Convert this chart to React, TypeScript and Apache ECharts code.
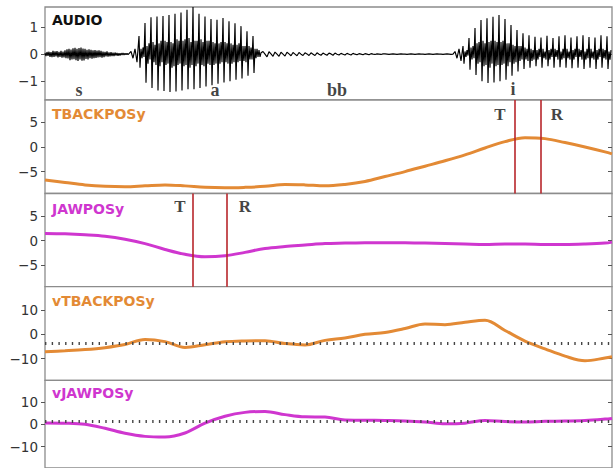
import { useEffect, useRef } from "react";
import * as echarts from "echarts";

// time axis (ms) of the articulatory curves
const CURVE_TIMES = [0, 20, 40, 60, 80, 100, 120, 140, 160, 180, 200, 220, 240, 260, 280, 300, 320, 340, 360, 380, 400, 420, 440, 460, 480, 500, 520, 540, 560, 567];

const TBACKPOS_Y = [-6.7, -7.2, -7.7, -8.0, -8.1, -7.9, -7.7, -7.9, -8.2, -8.3, -8.2, -8.0, -7.6, -7.7, -7.9, -7.6, -7.0, -6.0, -5.0, -3.9, -2.8, -1.6, -0.2, 1.1, 1.9, 1.7, 0.9, 0.0, -1.0, -1.4];
const JAWPOS_Y = [1.5, 1.4, 1.2, 0.9, 0.3, -0.6, -1.8, -2.8, -3.3, -3.1, -2.4, -1.6, -1.2, -0.9, -0.6, -0.5, -0.4, -0.4, -0.4, -0.5, -0.6, -0.7, -0.8, -0.7, -0.7, -0.8, -0.8, -0.7, -0.5, -0.3];
const V_TBACKPOS_Y = [-7.2, -6.8, -6.3, -5.5, -4.2, -2.1, -3.0, -5.4, -4.3, -3.1, -2.7, -2.6, -3.8, -4.4, -2.5, -1.5, 0.0, 0.8, 2.4, 4.3, 4.0, 5.0, 5.8, 1.6, -2.8, -6.0, -9.0, -10.9, -9.8, -9.3];
const V_JAWPOS_Y = [0.6, 0.5, 0.0, -1.8, -4.0, -5.4, -5.7, -3.9, 0.5, 3.6, 5.3, 5.7, 4.3, 3.3, 3.2, 1.9, 1.8, 1.7, 1.5, 1.0, 0.2, 0.5, 1.7, 1.2, 1.0, 1.3, 1.4, 1.7, 2.3, 2.6];

// audio waveform pieces (amplitude samples)
const AUDIO_S = [
  0.05, -0.07, 0.08, -0.06, 0.09, -0.1, 0.08, -0.11, 0.12, -0.1,
  0.1, -0.08, 0.11, -0.12, 0.09, -0.1, 0.12, -0.13, 0.1, -0.12,
  0.14, -0.15, 0.18, -0.16, 0.2, -0.22, 0.17, -0.2, 0.22, -0.19,
  0.24, -0.22, 0.2, -0.25, 0.23, -0.2, 0.25, -0.24, 0.21, -0.23,
  0.2, -0.18, 0.16, -0.2, 0.18, -0.15, 0.16, -0.17, 0.14, -0.15,
  0.15, -0.14, 0.13, -0.12, 0.14, -0.11, 0.12, -0.13, 0.1, -0.11,
  0.09, -0.08, 0.1, -0.09, 0.07, -0.08, 0.08, -0.07, 0.06, -0.07,
  0.06, -0.05, 0.05, -0.06, 0.04, -0.05, 0.04, -0.03, 0.04, -0.03,
  0.03, -0.02, 0.03, -0.02, 0.02,
];
const AUDIO_ONSET_A = [0.1, -0.15, 0.2, -0.3];
const AUDIO_A = [
  0.67, -0.5, 0.2, -0.15, 0.25, -0.1,
  1.16, -1.06, 0.3, -0.35, 0.4, -0.2,
  1.37, -1.25, 0.45, -0.3, 0.35, -0.4,
  1.4, -1.35, 0.4, -0.45, 0.5, -0.3,
  1.42, -1.37, 0.5, -0.4, 0.45, -0.35,
  1.45, -1.4, 0.45, -0.5, 0.4, -0.45,
  1.5, -1.38, 0.55, -0.4, 0.5, -0.35,
  1.55, -1.35, 0.5, -0.45, 0.55, -0.4,
  1.65, -1.3, 0.6, -0.5, 0.45, -0.4,
  1.75, -1.3, 0.5, -0.45, 0.5, -0.35,
  1.5, -1.25, 0.55, -0.4, 0.45, -0.45,
  1.4, -1.2, 0.5, -0.35, 0.5, -0.4,
  1.3, -1.15, 0.45, -0.4, 0.4, -0.35,
  1.28, -1.1, 0.4, -0.35, 0.45, -0.3,
  1.34, -1.05, 0.45, -0.3, 0.4, -0.35,
  1.22, -1.0, 0.4, -0.35, 0.35, -0.3,
  1.15, -0.95, 0.35, -0.3, 0.4, -0.25,
  1.04, -0.9, 0.3, -0.25, 0.3, -0.3,
  0.85, -0.8, 0.3, -0.2, 0.25, -0.2,
  0.67, -0.7, 0.2, -0.15, 0.2, -0.1,
  0.15, -0.1, 0.05,
];
const AUDIO_BB = [
  0.1, 0.0, -0.1,
  0.09, 0.01, -0.08,
  0.08, 0.0, -0.08,
  0.07, 0.0, -0.07,
  0.07, 0.01, -0.06,
  0.06, 0.0, -0.06,
  0.06, 0.0, -0.05,
  0.05, 0.01, -0.05,
  0.05, 0.0, -0.05,
  0.05, 0.0, -0.04,
  0.04, 0.0, -0.04,
  0.04, 0.01, -0.04,
  0.04, 0.0, -0.03,
  0.03, 0.0, -0.03,
  0.03, 0.0, -0.03,
  0.03, 0.0, -0.02,
  0.02, 0.0, -0.02,
  0.02, 0.0, -0.02,
  0.02, 0.0, -0.01,
  0.01, 0.0, -0.01,
  0.01,
];
const AUDIO_CLOSURE = [
  0.01, 0, -0.01, 0, 0.01, 0, -0.01, 0, 0.01, 0,
  0, -0.01, 0, 0.01, 0, -0.01, 0, 0.01, 0, 0,
  -0.01, 0, 0.01, 0, -0.01, 0, 0.01, 0, 0, -0.01,
  0, 0.01, 0, -0.01, 0,
];
const AUDIO_RELEASE = [0.1, -0.15, 0.2, -0.25];
const AUDIO_I = [
  0.3, -0.35, 0.1, -0.1, 0.15, -0.05,
  0.6, -0.58, 0.25, -0.2, 0.3, -0.15,
  0.97, -0.77, 0.4, -0.35, 0.45, -0.3,
  1.27, -1.0, 0.5, -0.45, 0.4, -0.4,
  1.33, -1.07, 0.45, -0.5, 0.5, -0.35,
  1.39, -1.05, 0.5, -0.45, 0.45, -0.4,
  1.45, -1.0, 0.45, -0.4, 0.5, -0.35,
  1.3, -0.95, 0.4, -0.45, 0.4, -0.3,
  1.08, -0.8, 0.35, -0.35, 0.3, -0.3,
  0.9, -0.64, 0.3, -0.25, 0.3, -0.2,
  0.78, -0.55, 0.25, -0.2, 0.2, -0.25,
  0.7, -0.5, 0.2, -0.25, 0.15, -0.2,
  0.65, -0.45, 0.15, -0.2, 0.2, -0.1,
  0.62, -0.5, 0.2, -0.15, 0.1, -0.2,
  0.68, -0.45, 0.15, -0.2, 0.2, -0.1,
  0.6, -0.5, 0.2, -0.1, 0.15, -0.2,
  0.66, -0.48, 0.1, -0.2, 0.2, -0.15,
  0.7, -0.5, 0.2, -0.15, 0.1, -0.2,
  0.62, -0.52, 0.15, -0.2, 0.2, -0.1,
  0.66, -0.5, 0.2, -0.1, 0.15, -0.2,
  0.7, -0.55, 0.1, -0.2, 0.2, -0.15,
  0.64, -0.5, 0.2, -0.15, 0.1, -0.2,
  0.62, -0.55, 0.15, -0.2, 0.2, -0.1,
  0.7, -0.5, 0.2, -0.15, 0.15, -0.2,
  0.66, -0.55, 0.1, -0.2, 0.15,
];
// [start ms, sample step ms, samples]
const AUDIO_PIECES: [number, number, number[]][] = [
  [0, 1, AUDIO_S],
  [86, 2, AUDIO_ONSET_A],
  [94, 1, AUDIO_A],
  [218, 2, AUDIO_BB],
  [340, 2, AUDIO_CLOSURE],
  [410, 2, AUDIO_RELEASE],
  [418, 1, AUDIO_I],
];

// segment labels [name, time ms, amplitude]
const SEGMENTS: [string, number, number][] = [["s", 34, -1.33], ["a", 170, -1.33], ["bb", 292, -1.33], ["i", 468, -1.28]];

// landmarks (time, ms)
const TBACK_MARKS = [470, 496];
const JAW_MARKS = [148, 182];
const TBACK_MARK_LABELS: [string, number, number][] = [["T", 455, 6.7], ["R", 512, 6.7]];
const JAW_MARK_LABELS: [string, number, number][] = [["T", 135, 7.1], ["R", 200, 7.1]];

// dotted reference levels of the velocity panels
const V_TBACK_REF = -3.7;
const V_JAW_REF = 1.5;

const PANEL_TITLES = ["AUDIO", "TBACKPOSy", "JAWPOSy", "vTBACKPOSy", "vJAWPOSy"];
const Y_TICKS = [[-1, 0, 1], [-5, 0, 5], [-5, 0, 5], [-10, 0, 10], [-10, 0, 10]];

const ORANGE = "#E38A35";
const MAGENTA = "#CF36CF";
const RED = "#B8262B";

export default function App() {
  const ref = useRef<HTMLDivElement>(null);

  useEffect(() => {
    if (!ref.current) return;
    const chart = echarts.init(ref.current, undefined, { renderer: "svg" });

    const panels = [
      { top: 7, height: 93, min: -1.7, max: 1.75 },
      { top: 100, height: 93.5, min: -9.45, max: 9.55 },
      { top: 193.5, height: 93.2, min: -9.46, max: 9.7 },
      { top: 286.7, height: 93.6, min: -19, max: 19.7 },
      { top: 380.3, height: 93.6, min: -19.5, max: 19.6 },
    ];
    const titleColors = ["#111", ORANGE, MAGENTA, ORANGE, MAGENTA];
    const titleTops = [13, 107, 202, 294, 386];

    const fmt = (v: number) => (v < 0 ? "\u2212" + Math.abs(v) : String(v));

    const audioData: number[][] = [];
    AUDIO_PIECES.forEach(([start, step, values]) => {
      values.forEach((v, k) => audioData.push([start + k * step, v]));
    });

    const grid = panels.map((p) => ({
      left: 45,
      width: 567,
      top: p.top,
      height: p.height,
      show: true,
      borderColor: "#8c8c8c",
      borderWidth: 1.3,
      backgroundColor: "#fff",
      containLabel: false,
    }));

    const xAxis = panels.map((_, i) => ({
      type: "value",
      gridIndex: i,
      min: 0,
      max: 567,
      show: false,
    }));

    const yAxis: any[] = [];
    panels.forEach((p, i) => {
      yAxis.push({
        type: "value",
        gridIndex: i,
        position: "left",
        min: p.min,
        max: p.max,
        axisLine: { show: false },
        splitLine: { show: false },
        axisTick: { show: true, inside: false, length: 4, customValues: Y_TICKS[i], lineStyle: { color: "#555", width: 1 } },
        axisLabel: {
          show: true,
          customValues: Y_TICKS[i],
          formatter: fmt,
          margin: 7,
          fontFamily: "DejaVu Sans",
          fontSize: 13.5,
          color: "#333",
        },
      });
      yAxis.push({
        type: "value",
        gridIndex: i,
        position: "right",
        min: p.min,
        max: p.max,
        axisLine: { show: false },
        splitLine: { show: false },
        axisTick: { show: true, inside: true, length: 4, customValues: Y_TICKS[i], lineStyle: { color: "#555", width: 1 } },
        axisLabel: { show: false },
      });
    });

    const labelScatter = (xi: number, yi: number, items: [string, number, number][], size: number) => ({
      type: "scatter",
      xAxisIndex: xi,
      yAxisIndex: yi,
      symbolSize: 1,
      silent: true,
      itemStyle: { color: "rgba(0,0,0,0)" },
      data: items.map(([name, t, v]) => ({ name, value: [t, v] })),
      label: {
        show: true,
        position: "inside",
        formatter: (p: any) => p.name,
        fontFamily: "Liberation Serif",
        fontWeight: "bold",
        fontSize: size,
        color: "#111",
      },
      z: 5,
    });

    const curve = (xi: number, yi: number, values: number[], color: string) => ({
      type: "line",
      xAxisIndex: xi,
      yAxisIndex: yi,
      data: CURVE_TIMES.map((t, k) => [t, values[k]]),
      smooth: 0.35,
      showSymbol: false,
      silent: true,
      lineStyle: { color, width: 3 },
      z: 3,
    });

    const vLines = (marks: number[]) => ({
      symbol: ["none", "none"],
      silent: true,
      label: { show: false },
      lineStyle: { color: RED, width: 1.6, type: "solid" },
      data: marks.map((t) => ({ xAxis: t })),
      z: 4,
    });

    const dotted = (level: number) => ({
      symbol: ["none", "none"],
      silent: true,
      label: { show: false },
      lineStyle: { color: "#444", width: 3, type: [1.4, 5.3] },
      data: [{ yAxis: level }],
    });

    const option: any = {
      animation: false,
      backgroundColor: "#fff",
      title: PANEL_TITLES.map((text, i) => ({
        text,
        left: 52,
        top: titleTops[i],
        padding: 0,
        textStyle: {
          fontFamily: "DejaVu Sans",
          fontWeight: "bold",
          fontSize: 14,
          color: titleColors[i],
        },
      })),
      grid,
      xAxis,
      yAxis,
      series: [
        {
          type: "line",
          xAxisIndex: 0,
          yAxisIndex: 0,
          data: audioData,
          showSymbol: false,
          silent: true,
          lineStyle: { color: "#000", width: 1.15 },
        },
        labelScatter(0, 0, SEGMENTS, 18),
        { ...curve(1, 2, TBACKPOS_Y, ORANGE), markLine: vLines(TBACK_MARKS) },
        labelScatter(1, 2, TBACK_MARK_LABELS, 17),
        { ...curve(2, 4, JAWPOS_Y, MAGENTA), markLine: vLines(JAW_MARKS) },
        labelScatter(2, 4, JAW_MARK_LABELS, 17),
        { ...curve(3, 6, V_TBACKPOS_Y, ORANGE), markLine: dotted(V_TBACK_REF) },
        { ...curve(4, 8, V_JAWPOS_Y, MAGENTA), markLine: dotted(V_JAW_REF) },
      ],
    };

    chart.setOption(option);
    return () => chart.dispose();
  }, []);

  return (
    <div
      ref={ref}
      style={{ position: "fixed", left: 0, top: 0, width: 614, height: 468, background: "#fff" }}
    />
  );
}
